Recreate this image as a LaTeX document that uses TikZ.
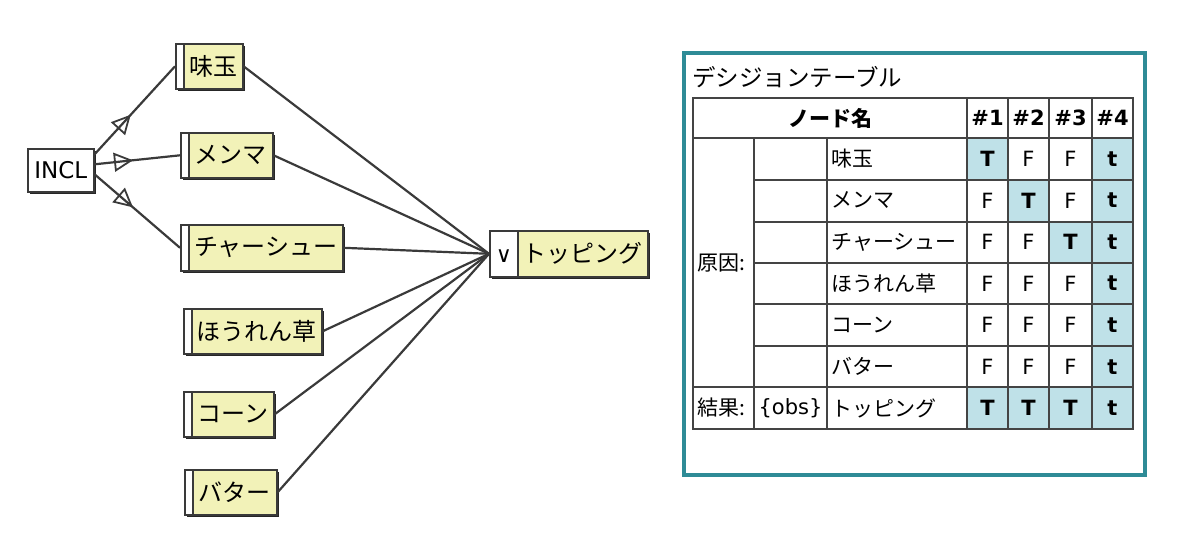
\documentclass[tikz,border=0pt]{standalone}
\usepackage{fontspec}
\setmainfont{Noto Sans CJK JP}
\newfontfamily\latfont{DejaVu Sans}
\usetikzlibrary{arrows.meta,decorations.markings,shadows}
\definecolor{nodeyellow}{HTML}{F2F2B8}
\definecolor{cellblue}{HTML}{BFE1E8}
\definecolor{tealframe}{HTML}{2E8B96}
\definecolor{linegray}{HTML}{3A3A3A}
\definecolor{gridgray}{HTML}{444444}
\begin{document}
\begin{tikzpicture}[x=1pt,y=-1pt,
  box/.style={draw=linegray, line width=1.6pt, inner sep=0pt, anchor=north west,
    font=\fontsize{24}{28}\selectfont,
    drop shadow={shadow xshift=2pt, shadow yshift=-2pt, fill=black!85, opacity=1}},
  ybox/.style={box, fill=nodeyellow, minimum height=45pt,
    path picture={\fill[white] (path picture bounding box.south west) rectangle ([xshift=8pt]path picture bounding box.north west);
      \draw[linegray,line width=1.6pt] ([xshift=8pt]path picture bounding box.south west) -- ([xshift=8pt]path picture bounding box.north west);}},
  orbox/.style={box, fill=nodeyellow, minimum height=46pt,
    path picture={\fill[white] (path picture bounding box.south west) rectangle ([xshift=28pt]path picture bounding box.north west);
      \draw[linegray,line width=1.6pt] ([xshift=28pt]path picture bounding box.south west) -- ([xshift=28pt]path picture bounding box.north west);}},
  edge/.style={draw=linegray, line width=2.2pt},
  tri/.style={postaction={decorate}, decoration={markings, mark=at position 0.45 with {\arrow{Triangle[open, length=19pt, width=19pt, line width=1.8pt]}}}},
  grid/.style={draw=gridgray, line width=2pt},
  cell/.style={font=\fontsize{21}{25}\selectfont, inner sep=0pt},
  lcell/.style={font=\latfont\fontsize{21}{25}\selectfont, inner sep=0pt},
  bcell/.style={font=\latfont\fontsize{21}{25}\selectfont\bfseries, inner sep=0pt},
  jbcell/.style={font=\fontsize{21}{25}\selectfont\bfseries, inner sep=0pt}
]
\useasboundingbox (0,0) rectangle (1200,539);

% ---- graph ----
\node[box, fill=white, minimum width=66pt, minimum height=43pt, font=\latfont\fontsize{23}{28}\selectfont] (incl) at (27,148) {INCL};
\node[ybox, minimum width=67pt] (ajitama) at (175,43) {\hspace*{8pt}味玉};
\node[ybox, minimum width=92pt] (menma) at (180,132) {\hspace*{8pt}メンマ};
\node[ybox, minimum width=162pt, minimum height=46pt] (chashu) at (180,224) {\hspace*{8pt}チャーシュー};
\node[ybox, minimum width=138pt] (horenso) at (183,308) {\hspace*{8pt}ほうれん草};
\node[ybox, minimum width=90pt] (corn) at (183,391) {\hspace*{8pt}コーン};
\node[ybox, minimum width=92pt] (butter) at (184,469) {\hspace*{8pt}バター};
\node[orbox, minimum width=158pt] (topping) at (489,230) {\makebox[28pt]{\latfont\fontsize{22}{24}\selectfont ∨}\makebox[130pt]{トッピング}};

\draw[edge, tri] ([yshift=16pt]incl.east) -- (ajitama.west);
\draw[edge, tri] ([yshift=6pt]incl.east) -- (menma.west);
\draw[edge, tri] ([yshift=-4pt]incl.east) -- (chashu.west);

\foreach \n in {ajitama,menma,chashu,horenso,corn,butter}
  \draw[edge] (\n.east) -- (topping.west);

% ---- decision table ----
\draw[tealframe, line width=3.2pt] (684,53) rectangle (1145,475);
\node[anchor=west, inner sep=0pt, font=\fontsize{23.5}{28}\selectfont] (title) at (692,77) {デシジョンテーブル};

% blue cells
\fill[cellblue] (967,138) rectangle (1008,180);
\fill[cellblue] (1008,180) rectangle (1049,222);
\fill[cellblue] (1049,222) rectangle (1092,263);
\fill[cellblue] (1092,138) rectangle (1133,387);
\fill[cellblue] (967,387) rectangle (1133,429);

% grid
\draw[grid] (693,98) rectangle (1133,429);
\foreach \x in {967,1008,1049,1092} \draw[grid] (\x,98) -- (\x,429);
\foreach \x in {754,827} \draw[grid] (\x,138) -- (\x,429);
\draw[grid] (693,138) -- (1133,138);
\draw[grid] (693,387) -- (1133,387);
\foreach \y in {180,222,263,304,346} \draw[grid] (754,\y) -- (1133,\y);

% header
\node[jbcell] (hname) at (830,118) {ノード名};
\node[bcell] (h1) at (987.5,118) {\#1};
\node[bcell] (h2) at (1028.5,118) {\#2};
\node[bcell] (h3) at (1070.5,118) {\#3};
\node[bcell] (h4) at (1112.5,118) {\#4};

\node[cell, anchor=west] (cause) at (697,263) {原因:};
\node[cell, anchor=west] (effect) at (697,408) {結果:};
\node[lcell] (obs) at (790.5,408) {\{obs\}};

\foreach \nm [count=\i] in {味玉,メンマ,チャーシュー,ほうれん草,コーン,バター,トッピング} {
  \pgfmathsetmacro{\yy}{138+(\i-0.5)*41.57}
  \node[cell, anchor=west] (name\i) at (831,\yy) {\nm};
}

\foreach \a/\b/\c/\d [count=\i] in {T/F/F/t, F/T/F/t, F/F/T/t, F/F/F/t, F/F/F/t, F/F/F/t, T/T/T/t} {
  \pgfmathsetmacro{\yy}{138+(\i-0.5)*41.57}
  \foreach \v/\xx/\j in {\a/987.5/1,\b/1028.5/2,\c/1070.5/3,\d/1112.5/4} {
    \if\v F
      \node[lcell] (v\i-\j) at (\xx,\yy) {\v};
    \else
      \node[bcell] (v\i-\j) at (\xx,\yy) {\v};
    \fi
  }
}
\end{tikzpicture}
\end{document}
